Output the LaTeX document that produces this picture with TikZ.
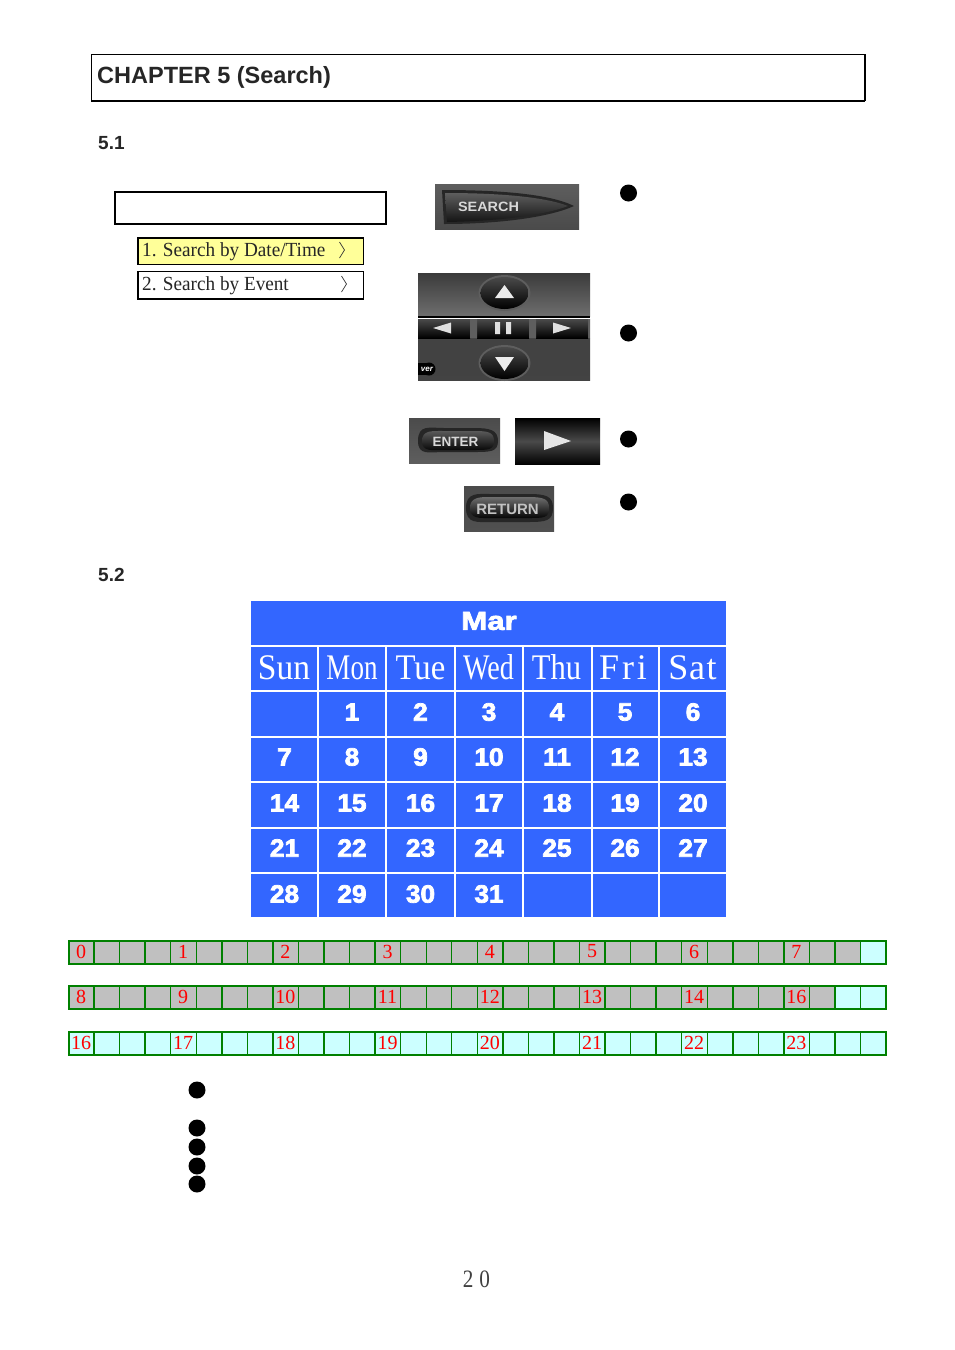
\documentclass[tikz,border=0pt]{standalone}
\usepackage{fontspec}
\setmainfont{Liberation Serif}
\newfontfamily\headf{Liberation Sans}
\font\blkN="Liberation Sans/B:embolden=3;extend=1.05" at 25pt
\font\blkM="Liberation Sans/B:embolden=3;extend=1.2" at 26pt
\definecolor{calblue}{HTML}{3366FF}
\definecolor{cellgrey}{HTML}{C0C0C0}
\definecolor{cellcyan}{HTML}{CCFFFF}
\definecolor{cellgreen}{HTML}{008000}
\definecolor{menuyellow}{HTML}{FFFF99}
\definecolor{btnA}{HTML}{4A4A4A}
\definecolor{btnB}{HTML}{5E5E5E}
\definecolor{btnD}{HTML}{141414}
\definecolor{btnT}{HTML}{D8D8D8}
\tikzset{
  bullet/.style={circle,fill=black,inner sep=0pt,minimum size=17pt},
  headtext/.style={anchor=base west,inner sep=0pt,font=\headf\bfseries\fontsize{19}{19}\selectfont,text=black!85},
  menubox/.style={draw=black,line width=1.8pt,anchor=north west,inner sep=0pt},
  menutext/.style={anchor=base west,inner sep=0pt,font=\fontsize{20}{20}\selectfont,text=black!85},
  daytext/.style={anchor=center,inner sep=0pt,text=white,font=\fontsize{36}{36}\selectfont},
  numtext/.style={anchor=center,inner sep=0pt,text=white,font=\blkN},
  hourtext/.style={anchor=center,inner sep=0pt,text=red,font=\fontsize{20}{20}\selectfont},
  btntext/.style={anchor=center,inner sep=0pt,text=btnT,font=\headf\bfseries\fontsize{13.5}{13.5}\selectfont},
}
\begin{document}
\begin{tikzpicture}[x=1pt,y=-1pt]
\useasboundingbox (0,0) rectangle (954,1350);
\fill[white] (0,0) rectangle (954,1350);
% title
\node[draw=black,line width=1.3pt,minimum width=773pt,minimum height=45.5pt,anchor=north west,inner sep=0pt] (titlebox) at (91,54) {};
\draw[line width=2pt] (titlebox.south west) -- (titlebox.south east);
\draw[line width=2pt] (titlebox.north east) -- (titlebox.south east);
\node[headtext,font=\headf\bfseries\fontsize{23.5}{24}\selectfont] (title) at (97,83) {CHAPTER 5 (Search)};
\node[headtext] (s51) at (98,149.5) {5.1};
\node[headtext] (s52) at (98,581.5) {5.2};
% menu
\node[menubox,line width=2pt,minimum width=271pt,minimum height=31.5pt] (menutop) at (114,191) {};
\node[menubox,fill=menuyellow,minimum width=225.5pt,minimum height=26.5pt] (menu1) at (137,237) {};
\node[menubox,minimum width=225.5pt,minimum height=27.5pt] (menu2) at (137,270.5) {};
\node[menutext] (m1t) at (142,256.5) {\scalebox{0.96}[1]{1. Search by Date/Time}};
\node[menutext] (m2t) at (142,290.5) {\scalebox{0.96}[1]{2. Search by Event}};
\draw[line width=0.7pt,black!80] (339.5,242) -- (344.5,250) -- (339.5,258);
\draw[line width=0.7pt,black!80] (341.5,276) -- (346.5,284) -- (341.5,292);
% SEARCH button
\shade[top color=btnB,bottom color=btnA] (435,184) rectangle (579,229.5);
\fill[black!85] (442,190) .. controls (500,190) and (550,194) .. (574,206) .. controls (550,217) and (500,224) .. (444,224) -- cycle;
\shade[top color=btnB,bottom color=btnD] (445,193) .. controls (500,193) and (545,197) .. (568,206) .. controls (545,215) and (500,221) .. (447,222) -- cycle;
\node[btntext] (bsearch) at (488.5,207) {\scalebox{1.07}[1]{SEARCH}};
% keypad
\shade[top color=btnA!80!black,bottom color=btnB!90!white] (418,273) rectangle (590,316);
\fill[black] (418,316) rectangle (590,318);
\shade[top color=btnB!70!black,bottom color=btnA!90!black] (418,338) rectangle (590,380.5);
\foreach \xa/\xb in {418/470,477/529,536/588}{
  \shade[top color=btnA,bottom color=black] (\xa,319) rectangle (\xb,338);
}
\fill[btnB] (470,319) rectangle (477,338) (529,319) rectangle (536,338) (588,319) rectangle (590,338);
\foreach \cy in {293,363}{
  \fill[btnB] (504.5,\cy) ellipse (26 and 18);
  \shade[top color=btnA,bottom color=black] (504.5,\cy) ellipse (24 and 16);
}
\fill[white!92!black] (504.5,285) -- (514,298) -- (495,298) -- cycle;
\fill[white!92!black] (504.5,371) -- (514,357) -- (495,357) -- cycle;
\fill[white!88!black] (433,328) -- (451,322.5) -- (451,333.5) -- cycle;
\fill[white!88!black] (571,328) -- (553,322.5) -- (553,333.5) -- cycle;
\fill[white!88!black] (495,322) rectangle (500,334) (506,322) rectangle (511,334);
\fill[black] (418,363) rectangle (429,375);
\fill[black] (429,369) circle (6.5);
\node[anchor=center,inner sep=0pt,text=white,font=\headf\bfseries\itshape\fontsize{8}{8}\selectfont] (kover) at (427,369) {ver};
% ENTER
\shade[top color=btnB!80!black,bottom color=btnB] (409,418) rectangle (500,463.5);
\fill[black!85] (418,441) .. controls (418,424) and (430,428) .. (444,428) -- (474,428) .. controls (490,428) and (498,430) .. (498,441) .. controls (498,452) and (490,452) .. (474,452) -- (444,452) .. controls (430,452) and (418,456) .. (418,441) -- cycle;
\shade[top color=btnB,bottom color=black] (422,441) .. controls (422,430) and (432,431) .. (444,431) -- (474,431) .. controls (488,431) and (494,432) .. (494,441) .. controls (494,450) and (488,450) .. (474,450) -- (444,450) .. controls (432,450) and (422,452) .. (422,441) -- cycle;
\node[btntext] (benter) at (455.5,442) {ENTER};
% play
\shade[top color=black,bottom color=black,middle color=btnA] (515,418) rectangle (600,464.5);
\fill[white!90!black] (544,431) -- (571,441) -- (544,450) -- cycle;
% RETURN
\shade[top color=btnB!80!black,bottom color=btnB!85!black] (464,486) rectangle (554,531.5);
\fill[black!85] (466,508) .. controls (466,492) and (478,494) .. (490,494) -- (528,494) .. controls (546,494) and (553,496) .. (553,508) .. controls (553,521) and (546,522) .. (528,522) -- (490,522) .. controls (478,522) and (466,524) .. (466,508) -- cycle;
\shade[top color=btnB!90!white,bottom color=black] (470,508) .. controls (470,497) and (480,497) .. (490,497) -- (528,497) .. controls (544,497) and (549,499) .. (549,508) .. controls (549,518) and (544,518) .. (528,518) -- (490,518) .. controls (480,518) and (470,519) .. (470,508) -- cycle;
\node[btntext,font=\headf\bfseries\fontsize{15}{15}\selectfont,text=btnT!90!black] (breturn) at (507.5,509) {RETURN};
% bullets
\node[bullet] (b1) at (628.5,193) {};
\node[bullet] (b2) at (628.5,333) {};
\node[bullet] (b3) at (628.5,439) {};
\node[bullet] (b4) at (628.5,502) {};
\node[bullet] (b5) at (197,1090) {};
\node[bullet] (b6) at (197,1128) {};
\node[bullet] (b7) at (197,1147) {};
\node[bullet] (b8) at (197,1166) {};
\node[bullet] (b9) at (197,1184) {};
% calendar
\fill[calblue] (251,601) rectangle (726,917);
\foreach \cx in {318,386.3,455,523.3,591.5,659.3}{\fill[white] (\cx-1,645.5) rectangle (\cx+1,917);}
\foreach \ry in {645.5,691,736.5,782,827.5,872.5}{\fill[white] (251,\ry-1) rectangle (726,\ry+1);}
\node[anchor=center,inner sep=0pt,text=white,font=\blkM] (mon) at (489,621) {Mar};
\node[daytext] (daySun) at (284,667.5) {\scalebox{0.93}[1]{Sun}};
\node[daytext] (dayMon) at (352,667.5) {\scalebox{0.75}[1]{Mon}};
\node[daytext] (dayTue) at (420.5,667.5) {\scalebox{0.91}[1]{Tue}};
\node[daytext] (dayWed) at (488.5,667.5) {\scalebox{0.78}[1]{Wed}};
\node[daytext] (dayThu) at (556.5,667.5) {\scalebox{0.85}[1]{Thu}};
\node[daytext] (dayFri) at (623,667.5) {F\hspace{3pt}r\hspace{3pt}i};
\node[daytext] (daySat) at (692.5,667.5) {S\hspace{1pt}a\hspace{1.5pt}t};
\foreach \n/\cx/\cy in {1/352/712,2/420.5/712,3/489/712,4/557/712,5/625/712,6/693/712,
 7/284.5/757,8/352/757,9/420.5/757,10/489/757,11/557/757,12/625/757,13/693/757,
 14/284.5/803,15/352/803,16/420.5/803,17/489/803,18/557/803,19/625/803,20/693/803,
 21/284.5/848,22/352/848,23/420.5/848,24/489/848,25/557/848,26/625/848,27/693/848,
 28/284.5/894,29/352/894,30/420.5/894,31/489/894}{
  \node[numtext] (num\n) at (\cx,\cy) {\n};
}
% time bars
\foreach \rowy/\ngrey/\labs in {
   940.5/31/{0,1,2,3,4,5,6,7},
   986/30/{8,9,10,11,12,13,14,16},
   1032/0/{16,17,18,19,20,21,22,23}}{
  \fill[cellcyan] (68.5,\rowy) rectangle (886,\rowy+23);
  \ifnum\ngrey>0
    \fill[cellgrey] (68.5,\rowy) rectangle ({68.5+25.55*\ngrey},\rowy+23);
  \fi
  \foreach \i in {1,...,31}{
    \draw[cellgreen,line width=1.4pt] ({68.5+25.55*\i},\rowy) -- ++(0,23);
  }
  \draw[cellgreen,line width=2pt] (68.5,\rowy) rectangle (886,\rowy+23);
  \foreach \t [count=\k from 0] in \labs {
    \node[hourtext] (h\t x\k) at ({81+102.2*\k},\rowy+11) {\t};
  }
}
% page number
\node[anchor=center,inner sep=0pt,text=black!75,font=\fontsize{25}{25}\selectfont] (page) at (476.5,1279) {\scalebox{0.85}[1]{2\hspace{7pt}0}};
\end{tikzpicture}
\end{document}
